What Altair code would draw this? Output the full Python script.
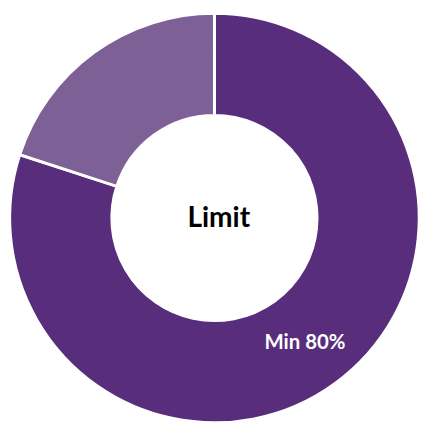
import altair as alt
import pandas as pd

categories = ["Min", "Rest"]
values = [80, 20]
colors = ["#582E7C", "#7D6196"]
center_title = "Limit"
slice_label = "Min 80%"

df = pd.DataFrame({"cat": categories, "val": values, "idx": [0, 1]})

base = alt.Chart(df)

arcs = base.mark_arc(outerRadius=211.5, innerRadius=106, stroke="white", strokeWidth=3).encode(
    theta=alt.Theta("val:Q", stack=True),
    order=alt.Order("idx:Q"),
    color=alt.Color("cat:N", scale=alt.Scale(domain=categories, range=colors), legend=None),
    x=alt.value(221.5),
    y=alt.value(218),
)

title_df = pd.DataFrame({"t": [center_title]})
title = alt.Chart(title_df).mark_text(
    font="Lato", fontWeight="bold", fontSize=29, color="black", align="center", baseline="middle"
).encode(text="t:N", x=alt.value(226), y=alt.value(218))

lab_df = pd.DataFrame({"t": [slice_label]})
lab = alt.Chart(lab_df).mark_text(
    font="Lato", fontWeight="bold", fontSize=21, color="white", align="center", baseline="middle"
).encode(text="t:N", x=alt.value(315), y=alt.value(347))

chart = alt.layer(arcs, title, lab).properties(
    width=425, height=424, padding=0
).configure_view(stroke=None)

chart.save("out.html", embed_options={"renderer": "svg", "actions": False})
